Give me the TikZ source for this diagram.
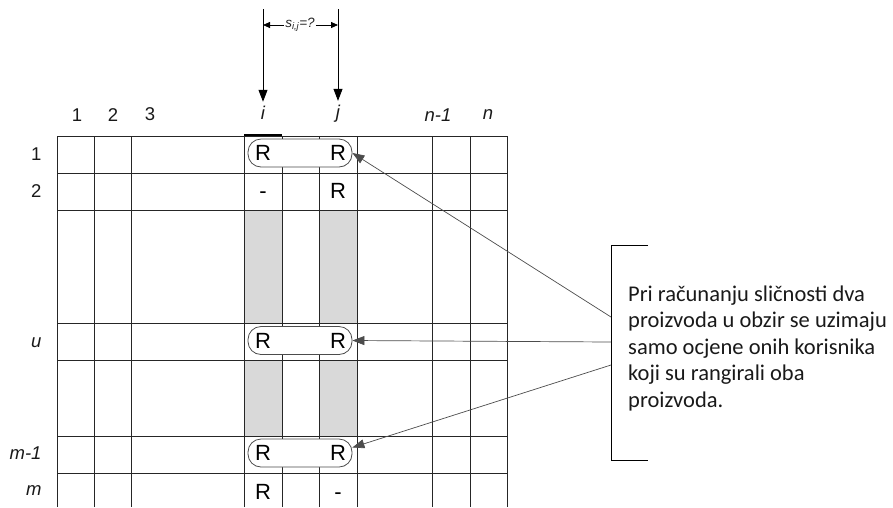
\documentclass[tikz,border=0pt]{standalone}
\usepackage{fontspec}
\setmainfont{Liberation Sans}
\newfontfamily\notefont{Carlito}
\usetikzlibrary{arrows.meta}

\tikzset{
  cell/.style={font=\fontsize{22}{24}\selectfont, inner sep=0pt, text height=15.8pt, text depth=0pt, text=black},
  lbl/.style={font=\fontsize{18.5}{20}\selectfont, text=black!90},
  ilbl/.style={lbl, font=\fontsize{18.5}{20}\selectfont\itshape},
  pill/.style={draw=black!70, fill=white, rounded corners=13pt, minimum width=104pt, minimum height=28pt, line width=0.8pt},
  pointer/.style={draw=black!70, line width=0.7pt, -{Triangle[length=12pt,width=9pt]}},
  gridline/.style={draw=black!85, line width=1pt},
}

\begin{document}
\begin{tikzpicture}[x=1pt,y=-1pt]
  \useasboundingbox (0,0) rectangle (893,507);

  % shaded cells of columns i and j
  \fill[black!15] (244,210) rectangle (282,323) (319,210) rectangle (357,323)
                  (244,360) rectangle (282,436) (319,360) rectangle (357,436);

  % the rating matrix
  \foreach \x in {57,94,131,244,282,319,357,432,470,507}
    \draw[gridline] (\x,136) -- (\x,507);
  \foreach \y in {136,173,210,323,360,436,473}
    \draw[gridline] (57,\y) -- (507,\y);
  \draw[line width=1.6pt] (244,135) -- (282,135);

  % column labels
  \node[lbl] (c1) at (77,115) {1};
  \node[lbl] (c2) at (113,115) {2};
  \node[lbl] (c3) at (150,114) {3};
  \node[ilbl] (ci) at (263,113) {i};
  \node[ilbl] (cj) at (338,114) {j};
  \node[ilbl] (cn1) at (438,115) {n-1};
  \node[ilbl] (cn) at (488,115) {n};

  % row labels
  \node[lbl, anchor=east] (r1) at (45,154) {1};
  \node[lbl, anchor=east] (r2) at (45,191) {2};
  \node[ilbl, anchor=east] (ru) at (45,343) {u};
  \node[ilbl, anchor=east] (rm1) at (45,453) {m-1};
  \node[ilbl, anchor=east] (rm) at (45,491) {m};

  % pairs rated by both users
  \node[pill] (p1) at (300,153) {};
  \node[pill] (pu) at (300,340.5) {};
  \node[pill] (pm) at (300,453) {};

  % ratings
  \node[cell] (x1i) at (263,153) {R};
  \node[cell] (x1j) at (338,153) {R};
  \node[cell] (x2i) at (263,191) {-};
  \node[cell] (x2j) at (338,191) {R};
  \node[cell] (xui) at (263,341) {R};
  \node[cell] (xuj) at (338,341) {R};
  \node[cell] (xm1i) at (263,453) {R};
  \node[cell] (xm1j) at (338,453) {R};
  \node[cell] (xmi) at (263,492) {R};
  \node[cell] (xmj) at (338,492) {-};

  % items i and j with their similarity
  \coordinate (ti) at (263,9);
  \coordinate (tj) at (338,9);
  \draw[line width=0.9pt, -{Triangle[length=12pt,width=9pt]}, shorten >=1pt] (ti) -- (ci.north);
  \draw[line width=0.9pt, -{Triangle[length=12pt,width=9pt]}, shorten >=1pt] (tj) -- (cj.north);
  \node[font=\fontsize{13.5}{15}\selectfont\itshape, text=black!85, inner sep=1pt] (sij) at (300,25) {s\textsubscript{i,j}=?};
  \draw[line width=0.8pt, -{Triangle[length=7pt,width=6pt]}] (sij.west) -- (sij.west -| ti);
  \draw[line width=0.8pt, -{Triangle[length=7pt,width=6pt]}] (sij.east) -- (sij.east -| tj);

  % explanation
  \node[font={\notefont\fontsize{22.5}{26.5}\selectfont}, align=left, anchor=west, inner sep=0pt, text=black!90] (note) at (628,348)
    {Pri računanju sličnosti dva\\proizvoda u obzir se uzimaju\\samo ocjene onih korisnika\\koji su rangirali oba\\proizvoda.};
  \coordinate (bt) at (648,245);
  \coordinate (bb) at (648,460);
  \draw[line width=0.9pt] (bt) -- (611,245) -- (611,460) -- (bb);

  \coordinate (a1) at (611,317);
  \coordinate (a2) at (611,342);
  \coordinate (a3) at (611,365);
  \draw[pointer] (a1) -- (p1.east);
  \draw[pointer] (a2) -- (pu.east);
  \draw[pointer] (a3) -- (pm.6);
\end{tikzpicture}
\end{document}
